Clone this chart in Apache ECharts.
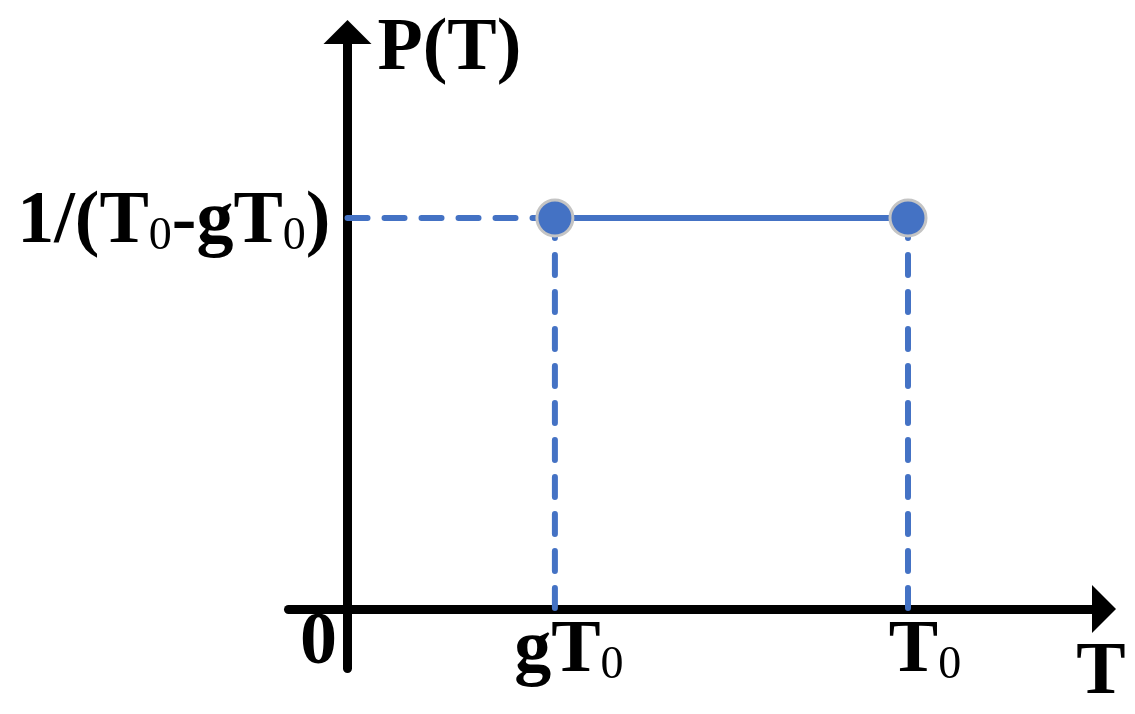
<!DOCTYPE html>
<html>
<head>
<meta charset="utf-8">
<script src="https://cdn.jsdelivr.net/npm/echarts@6/dist/echarts.min.js"></script>
<style>
html,body{margin:0;padding:0;background:#fff;}
#chart{width:1135px;height:714px;}
</style>
</head>
<body>
<div id="chart"></div>
<script>
// ---- data ----
const xTickValues = [0, 0.37, 1];            // 0, gT0, T0
const xTickKeys = ['zero', 'gT0', 'T0'];
const gT0 = 0.37;
const T0 = 1;
const pLevel = 1.587;                         // 1/(T0 - gT0)
const yTickValues = [pLevel];
const xRange = [-0.1053, 1.3497];
const yRange = [-0.2415, 2.342];

const FONT = '"Times New Roman", "Liberation Serif", serif';
const BLUE = '#4472C4';

const rich = {
  m: { fontFamily: FONT, fontWeight: 'bold', fontSize: 74, lineHeight: 74, color: '#000' },
  s: { fontFamily: FONT, fontWeight: 'normal', fontSize: 46, lineHeight: 68, color: '#000', verticalAlign: 'bottom' },
  mg: { fontFamily: FONT, fontWeight: 'bold', fontSize: 74, lineHeight: 74, color: '#000', padding: [0, 0, 0, 28] },
  mt: { fontFamily: FONT, fontWeight: 'bold', fontSize: 74, lineHeight: 74, color: '#000', padding: [0, 0, 0, 34] },
  z: { fontFamily: FONT, fontWeight: 'bold', fontSize: 74, lineHeight: 58, color: '#000', padding: [0, 58, 0, 0] }
};

function xLabel(v) {
  let idx = -1;
  xTickValues.forEach((t, i) => { if (Math.abs(t - v) < 1e-6) idx = i; });
  const k = xTickKeys[idx];
  if (k === 'zero') return '{z|0}';
  if (k === 'gT0') return '{mg|gT}{s|0}';
  if (k === 'T0') return '{mt|T}{s|0}';
  return '';
}

const chart = echarts.init(document.getElementById('chart'), null, { renderer: 'canvas' });
chart.setOption({
  animation: false,
  backgroundColor: '#ffffff',
  grid: { left: 288.5, right: 31, top: 32, bottom: 45.5, containLabel: false, outerBoundsMode: 'none' },
  xAxis: {
    type: 'value',
    min: xRange[0], max: xRange[1],
    splitLine: { show: false },
    axisTick: { show: false },
    axisLine: {
      onZero: true,
      symbol: ['none', 'triangle'],
      symbolSize: [48, 24],
      lineStyle: { color: '#000', width: 9, cap: 'round' }
    },
    axisLabel: {
      customValues: xTickValues,
      margin: -53.5,
      verticalAlign: 'top',
      formatter: xLabel,
      rich: rich
    },
    name: 'T',
    nameLocation: 'end',
    nameGap: -3,
    nameMoveOverlap: false,
    nameTextStyle: {
      fontFamily: FONT, fontWeight: 'bold', fontSize: 74, lineHeight: 74, color: '#000',
      align: 'center', verticalAlign: 'top', padding: [28, 0, 0, 0]
    }
  },
  yAxis: {
    type: 'value',
    min: yRange[0], max: yRange[1],
    splitLine: { show: false },
    axisTick: { show: false },
    axisLine: {
      onZero: true,
      symbol: ['none', 'triangle'],
      symbolSize: [48, 24],
      lineStyle: { color: '#000', width: 9, cap: 'round' }
    },
    axisLabel: {
      customValues: yTickValues,
      margin: -42,
      padding: [10, 0, 0, 0],
      formatter: () => '{m|1/(T}{s|0}{m|-gT}{s|0}{m|)}',
      rich: rich
    },
    name: 'P(T)',
    nameLocation: 'end',
    nameGap: 19,
    nameMoveOverlap: false,
    nameTextStyle: {
      fontFamily: FONT, fontWeight: 'bold', fontSize: 74, lineHeight: 74, color: '#000',
      align: 'left', verticalAlign: 'top', padding: [0, 0, 0, 30]
    }
  },
  series: [
    {
      type: 'line', name: 'h-dash', showSymbol: false, silent: true,
      data: [[0, pLevel], [gT0, pLevel]],
      lineStyle: { color: BLUE, width: 6, type: [20, 17], cap: 'round' },
      z: 2
    },
    {
      type: 'line', name: 'v-dash-g', showSymbol: false, silent: true,
      data: [[gT0, pLevel], [gT0, 0]],
      lineStyle: { color: BLUE, width: 6, type: [20, 17], cap: 'round' },
      z: 2
    },
    {
      type: 'line', name: 'v-dash-t', showSymbol: false, silent: true,
      data: [[T0, pLevel], [T0, 0]],
      lineStyle: { color: BLUE, width: 6, type: [20, 17], cap: 'round' },
      z: 2
    },
    {
      type: 'line', name: 'uniform', silent: true,
      data: [[gT0, pLevel], [T0, pLevel]],
      showSymbol: true, symbol: 'circle', symbolSize: 36,
      lineStyle: { color: BLUE, width: 6 },
      itemStyle: { color: BLUE, borderColor: '#c4c4c4', borderWidth: 3 },
      z: 3
    }
  ]
});
</script>
</body>
</html>
